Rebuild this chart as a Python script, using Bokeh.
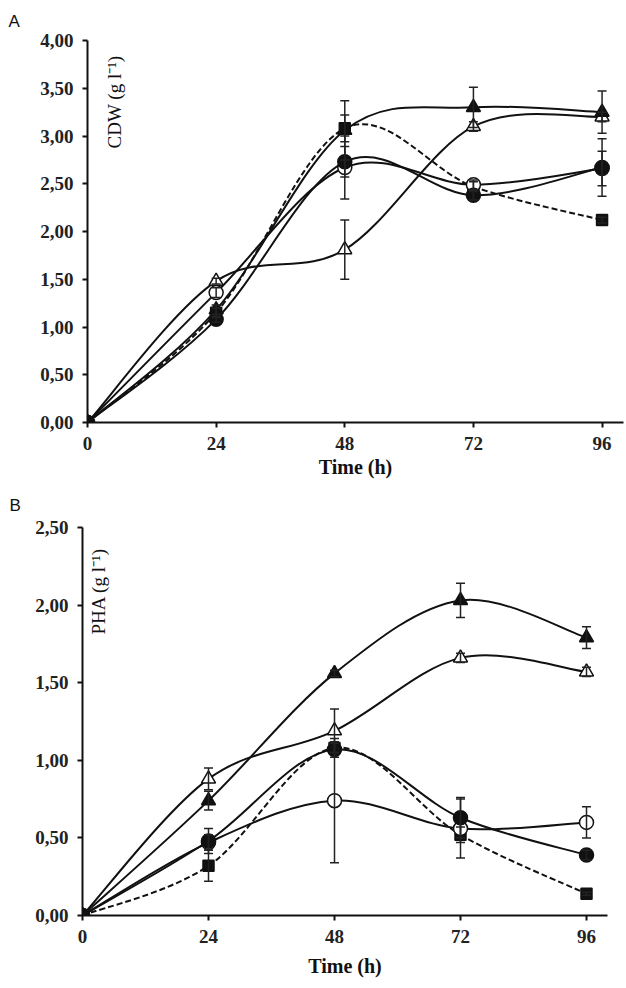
import math
from bokeh.plotting import figure
from bokeh.layouts import column
from bokeh.models import ColumnDataSource, Whisker, TeeHead, FixedTicker, Label, Range1d
from bokeh.embed import file_html
from bokeh.resources import INLINE

# ---------------- data ----------------
time_h = [0, 24, 48, 72, 96]
x_ticks = [0, 24, 48, 72, 96]
x_tick_labels = ["0", "24", "48", "72", "96"]

cdw_ticks = [0.0, 0.5, 1.0, 1.5, 2.0, 2.5, 3.0, 3.5, 4.0]
cdw_tick_labels = ["0,00", "0,50", "1,00", "1,50", "2,00", "2,50", "3,00", "3,50", "4,00"]
pha_ticks = [0.0, 0.5, 1.0, 1.5, 2.0, 2.5]
pha_tick_labels = ["0,00", "0,50", "1,00", "1,50", "2,00", "2,50"]

# Panel A: CDW (g l-1)
cdw_square = [0, 1.15, 3.08, 2.47, 2.12]
cdw_square_err = [0, 0.05, 0.14, 0.05, 0.03]
cdw_open_circle = [0, 1.36, 2.67, 2.49, 2.66]
cdw_open_circle_err = [0, 0.05, 0.33, 0.05, 0.18]
cdw_filled_circle = [0, 1.08, 2.73, 2.38, 2.67]
cdw_filled_circle_err = [0, 0.03, 0.16, 0.05, 0.30]
cdw_open_triangle = [0, 1.48, 1.81, 3.10, 3.20]
cdw_open_triangle_err = [0, 0.03, 0.31, 0.05, 0.05]
cdw_filled_triangle = [0, 1.18, 3.06, 3.30, 3.25]
cdw_filled_triangle_err = [0, 0.05, 0.31, 0.21, 0.22]

# Panel B: PHA (g l-1)
pha_square = [0, 0.32, 1.08, 0.52, 0.14]
pha_square_err = [0, 0.10, 0.03, 0.05, 0.01]
pha_open_circle = [0, 0.47, 0.74, 0.56, 0.60]
pha_open_circle_err = [0, 0.05, 0.40, 0.19, 0.10]
pha_filled_circle = [0, 0.48, 1.07, 0.63, 0.39]
pha_filled_circle_err = [0, 0.08, 0.05, 0.13, 0.03]
pha_open_triangle = [0, 0.88, 1.19, 1.66, 1.57]
pha_open_triangle_err = [0, 0.07, 0.14, 0.03, 0.03]
pha_filled_triangle = [0, 0.74, 1.56, 2.03, 1.79]
pha_filled_triangle_err = [0, 0.06, 0.02, 0.11, 0.07]

# (marker, filled, dashed)
styles = [("square", True, True),
          ("circle", False, False),
          ("circle", True, False),
          ("triangle", False, False),
          ("triangle", True, False)]

cdw_series = [(cdw_square, cdw_square_err), (cdw_open_circle, cdw_open_circle_err),
              (cdw_filled_circle, cdw_filled_circle_err), (cdw_open_triangle, cdw_open_triangle_err),
              (cdw_filled_triangle, cdw_filled_triangle_err)]
pha_series = [(pha_square, pha_square_err), (pha_open_circle, pha_open_circle_err),
              (pha_filled_circle, pha_filled_circle_err), (pha_open_triangle, pha_open_triangle_err),
              (pha_filled_triangle, pha_filled_triangle_err)]


def bezier_source(xs, ys):
    n = len(xs)
    pts = list(zip(xs, ys))
    d = dict(x0=[], y0=[], x1=[], y1=[], cx0=[], cy0=[], cx1=[], cy1=[])
    for i in range(n - 1):
        p0 = pts[max(i - 1, 0)]
        p1 = pts[i]
        p2 = pts[i + 1]
        p3 = pts[min(i + 2, n - 1)]
        d["x0"].append(p1[0]); d["y0"].append(p1[1])
        d["x1"].append(p2[0]); d["y1"].append(p2[1])
        d["cx0"].append(p1[0] + (p2[0] - p0[0]) / 6.0)
        d["cy0"].append(p1[1] + (p2[1] - p0[1]) / 6.0)
        d["cx1"].append(p2[0] - (p3[0] - p1[0]) / 6.0)
        d["cy1"].append(p2[1] - (p3[1] - p1[1]) / 6.0)
    return ColumnDataSource(d)


def make_panel(letter, series, ymax, yticks, ylabels, ylabel_text, ylabel_x, ylabel_y,
               width, height, mb_left, mb_right, mb_top, mb_bottom,
               title_offset, title_standoff, xlabel_standoff):
    p = figure(width=width, height=height, output_backend="svg", toolbar_location=None,
               x_range=Range1d(0, 100), y_range=Range1d(0, ymax),
               min_border_left=mb_left, min_border_right=mb_right,
               min_border_top=mb_top, min_border_bottom=mb_bottom, title=letter)
    try:
        p.frame_align = False
    except Exception:
        pass
    p.title.text_font = "Liberation Sans"
    p.title.text_font_style = "normal"
    p.title.text_font_size = "17px"
    p.title.text_color = "#111111"
    p.title.align = "left"
    p.title.offset = title_offset
    p.title.standoff = title_standoff
    p.outline_line_color = None
    p.xgrid.grid_line_color = None
    p.ygrid.grid_line_color = None

    for ax in (p.xaxis[0], p.yaxis[0]):
        ax.axis_line_width = 2
        ax.axis_line_color = "#111111"
        ax.major_tick_line_width = 2
        ax.major_tick_line_color = "#111111"
        ax.major_tick_out = 5
        ax.major_tick_in = 0
        ax.minor_tick_line_color = None
        ax.major_label_text_font = "Liberation Serif"
        ax.major_label_text_font_style = "bold"
        ax.major_label_text_font_size = "19px"
        ax.major_label_text_color = "#222222"
        ax.major_label_standoff = 9

    p.xaxis.ticker = FixedTicker(ticks=x_ticks)
    p.xaxis.major_label_overrides = {float(t): l for t, l in zip(x_ticks, x_tick_labels)}
    p.yaxis.ticker = FixedTicker(ticks=yticks)
    p.yaxis.major_label_overrides = {float(t): l for t, l in zip(yticks, ylabels)}
    p.xaxis.axis_label = "Time (h)"
    p.xaxis.axis_label_text_font = "Liberation Serif"
    p.xaxis.axis_label_text_font_style = "bold"
    p.xaxis.axis_label_text_font_size = "20px"
    p.xaxis.axis_label_text_color = "#111111"
    p.xaxis.axis_label_standoff = xlabel_standoff

    for (vals, errs), (marker, filled, dashed) in zip(series, styles):
        bsrc = bezier_source(time_h, vals)
        p.bezier(x0="x0", y0="y0", x1="x1", y1="y1", cx0="cx0", cy0="cy0",
                 cx1="cx1", cy1="cy1", source=bsrc, line_color="#111111",
                 line_width=2, line_dash="6 3" if dashed else "solid")
        ex = [t for t, e in zip(time_h, errs) if e > 0]
        eu = [v + e for v, e in zip(vals, errs) if e > 0]
        el = [v - e for v, e in zip(vals, errs) if e > 0]
        esrc = ColumnDataSource(dict(x=ex, upper=eu, lower=el))
        w = Whisker(source=esrc, base="x", upper="upper", lower="lower",
                    line_color="#222222", line_width=1.5, level="glyph",
                    upper_head=TeeHead(size=9, line_width=1.5, line_color="#222222"),
                    lower_head=TeeHead(size=9, line_width=1.5, line_color="#222222"))
        p.add_layout(w)
        size = 11 if marker == "square" else 14
        p.scatter(x=time_h, y=vals, marker=marker, size=size,
                  fill_color="#111111" if filled else "white",
                  line_color="#111111", line_width=1.5)

    p.add_layout(Label(x=ylabel_x, y=ylabel_y, text=ylabel_text, angle=math.pi / 2,
                       text_align="left", text_baseline="middle",
                       text_font="Liberation Serif", text_font_size="19px",
                       text_color="#111111"))
    return p


pA = make_panel("A", cdw_series, 4.0, cdw_ticks, cdw_tick_labels, "CDW (g l\u207b\u00b9)",
                5.0, 2.87, 624, 480, 87, 1, 40, 56, -79, 19, 3)
pB = make_panel("B", pha_series, 2.5, pha_ticks, pha_tick_labels, "PHA (g l\u207b\u00b9)",
                3.05, 1.81, 624, 506, 82, 17, 47, 71, -73, 26, 9)

layout = column(pA, pB)
open("out.html", "w").write(file_html(layout, INLINE))
